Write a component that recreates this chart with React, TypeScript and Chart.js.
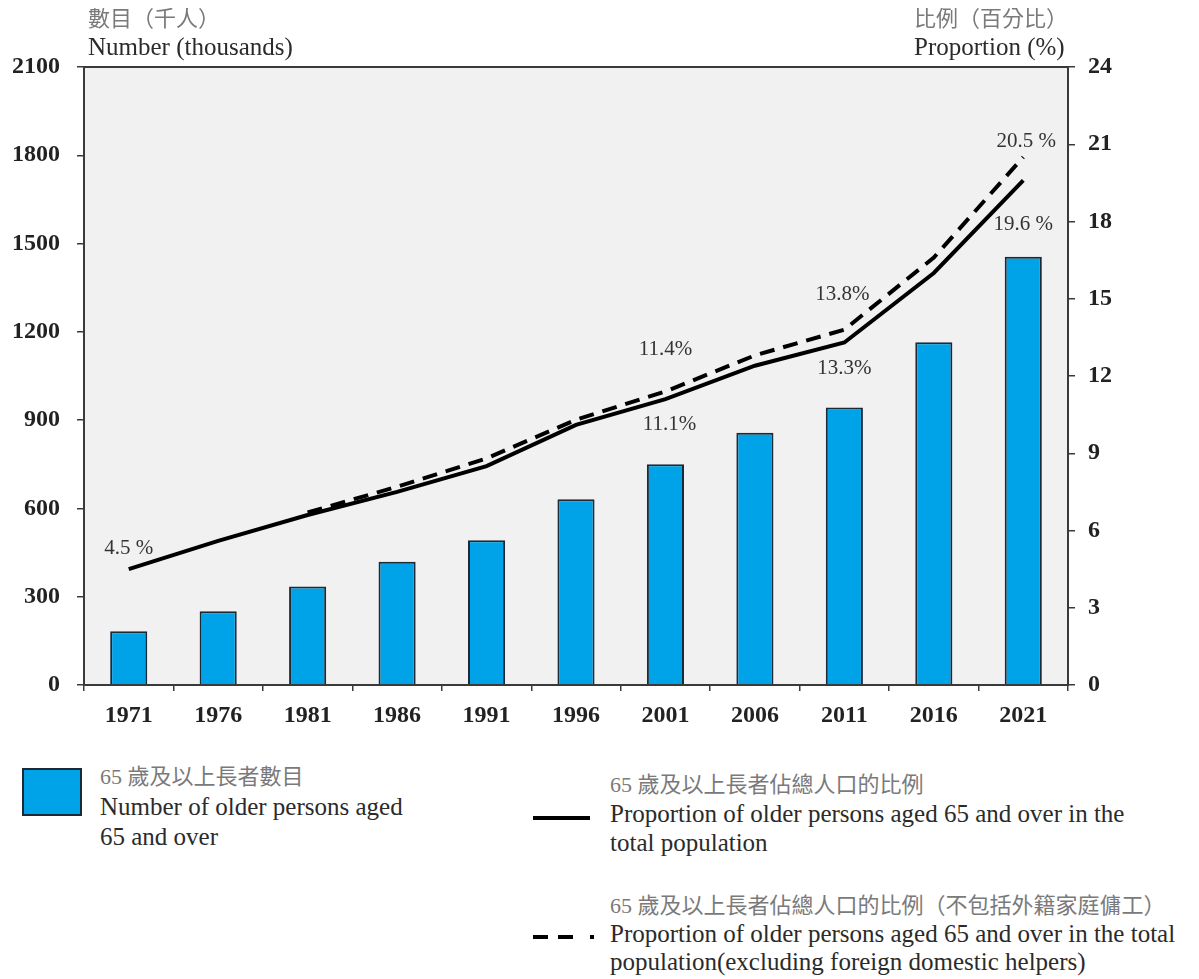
import React, { useEffect, useRef } from "react";
import { Chart, registerables } from "chart.js";

Chart.register(...registerables);

const years = ["1971", "1976", "1981", "1986", "1991", "1996", "2001", "2006", "2011", "2016", "2021"];
const olderPersons = [183, 251, 335, 419, 492, 631, 750, 857, 943, 1165, 1455];
const proportionTotal = [4.5, 5.6, 6.6, 7.5, 8.5, 10.1, 11.1, 12.4, 13.3, 16.0, 19.6];
const proportionExclFDH = [null, null, 6.7, 7.7, 8.8, 10.3, 11.4, 12.8, 13.8, 16.6, 20.5];
const leftTickValues = [0, 300, 600, 900, 1200, 1500, 1800, 2100];
const rightTickValues = [0, 3, 6, 9, 12, 15, 18, 21, 24];

const valueLabels = [
  { ds: 1, i: 0, text: "4.5 %", dx: 0, dy: -21 },
  { ds: 1, i: 6, text: "11.1%", dx: 4, dy: 25 },
  { ds: 2, i: 6, text: "11.4%", dx: 0, dy: -42 },
  { ds: 1, i: 8, text: "13.3%", dx: 0, dy: 26 },
  { ds: 2, i: 8, text: "13.8%", dx: -2, dy: -35 },
  { ds: 2, i: 10, text: "20.5 %", dx: 3, dy: -16 },
  { ds: 1, i: 10, text: "19.6 %", dx: 0, dy: 44 },
];

const SERIF = '"Liberation Serif", "Times New Roman", "Noto Sans CJK TC", serif';
const BAR_FILL = "#00a3e8";
const BAR_EDGE = "#1c2a38";
const FRAME = "#3a3a3a";

const framePlugin = {
  id: "frame",
  beforeDatasetsDraw(chart: any) {
    const { ctx, chartArea: a } = chart;
    ctx.save();
    ctx.fillStyle = "#f1f1f1";
    ctx.fillRect(a.left, a.top, a.right - a.left, a.bottom - a.top);
    ctx.restore();
  },
  afterDatasetsDraw(chart: any) {
    const { ctx, chartArea: a } = chart;
    ctx.save();
    ctx.strokeStyle = FRAME;
    ctx.lineWidth = 2;
    ctx.strokeRect(a.left, a.top, a.right - a.left, a.bottom - a.top);
    ctx.font = '21px "Liberation Serif", serif';
    ctx.fillStyle = "#333";
    ctx.textAlign = "center";
    ctx.textBaseline = "middle";
    for (const l of valueLabels) {
      const el = chart.getDatasetMeta(l.ds).data[l.i];
      if (!el) continue;
      ctx.fillText(l.text, el.x + l.dx, el.y + l.dy);
    }
    ctx.restore();
  },
};

function Txt(props: { x: number; y: number; size: number; color?: string; children: any }) {
  const { x, y, size, color, children } = props;
  return (
    <div
      style={{
        position: "absolute",
        left: x - 8,
        top: y - 8 - size * 0.6,
        fontSize: size,
        lineHeight: `${size * 1.2}px`,
        whiteSpace: "nowrap",
        color: color || "#2a2a2a",
        fontFamily: SERIF,
      }}
    >
      {children}
    </div>
  );
}

const CJK = "#7a7a7a";
const EN = "#2b2b2b";

export default function App() {
  const ref = useRef<HTMLCanvasElement | null>(null);

  useEffect(() => {
    document.documentElement.style.overflow = "hidden";
    document.body.style.overflow = "hidden";
    if (!ref.current) return;
    const tickFont = { family: SERIF, size: 24, weight: "bold" as const };
    const plain = (v: any) => String(v);
    const chart = new Chart(ref.current, {
      type: "bar",
      data: {
        labels: years,
        datasets: [
          {
            type: "bar",
            data: olderPersons,
            backgroundColor: BAR_FILL,
            borderColor: BAR_EDGE,
            borderWidth: 2,
            yAxisID: "y",
            categoryPercentage: 1,
            barPercentage: 0.415,
            order: 3,
          } as any,
          {
            type: "line",
            data: proportionTotal,
            borderColor: "#000",
            borderWidth: 4,
            pointRadius: 0,
            tension: 0,
            fill: false,
            yAxisID: "y1",
            order: 1,
          } as any,
          {
            type: "line",
            data: proportionExclFDH,
            borderColor: "#000",
            borderWidth: 4,
            borderDash: [15, 9],
            pointRadius: 0,
            tension: 0,
            fill: false,
            spanGaps: false,
            yAxisID: "y1",
            order: 0,
          } as any,
        ],
      },
      options: {
        responsive: false,
        animation: false,
        layout: { padding: { top: 59, left: 0, right: 0, bottom: 0 } },
        plugins: { legend: { display: false }, tooltip: { enabled: false } },
        scales: {
          x: {
            offset: true,
            border: { display: false },
            grid: {
              offset: true,
              drawOnChartArea: false,
              drawTicks: true,
              tickLength: 6,
              color: FRAME,
              lineWidth: 1.5,
            },
            ticks: { font: tickFont, color: "#222", padding: 10, maxRotation: 0, autoSkip: false },
            afterFit: (s: any) => {
              s.height = 63;
            },
          },
          y: {
            position: "left",
            min: 0,
            max: 2100,
            border: { display: false },
            grid: { drawOnChartArea: false, tickLength: 7, color: FRAME, lineWidth: 1.5 },
            afterBuildTicks: (s: any) => {
              s.ticks = leftTickValues.map((v) => ({ value: v }));
            },
            ticks: { font: tickFont, color: "#222", padding: 17, callback: plain },
            afterFit: (s: any) => {
              s.width = 76;
            },
          },
          y1: {
            position: "right",
            min: 0,
            max: 24,
            border: { display: false },
            grid: { drawOnChartArea: false, tickLength: 7, color: FRAME, lineWidth: 1.5 },
            afterBuildTicks: (s: any) => {
              s.ticks = rightTickValues.map((v) => ({ value: v }));
            },
            ticks: { font: tickFont, color: "#222", padding: 13, callback: plain },
            afterFit: (s: any) => {
              s.width = 123;
            },
          },
        },
      },
      plugins: [framePlugin],
    });
    return () => chart.destroy();
  }, []);

  return (
    <div style={{ position: "relative", width: 1183, height: 971 }}>
      <canvas ref={ref} width={1183} height={740} style={{ position: "absolute", left: 0, top: 0 }} />

      <Txt x={88} y={19} size={22} color={CJK}>數目（千人）</Txt>
      <Txt x={88} y={47} size={25} color={EN}>Number (thousands)</Txt>
      <Txt x={914} y={19} size={22} color={CJK}>比例（百分比）</Txt>
      <Txt x={914} y={47} size={25} color={EN}>Proportion (%)</Txt>

      {/* legend: bars */}
      <div
        style={{
          position: "absolute",
          left: 22 - 8,
          top: 768 - 8,
          width: 56,
          height: 44,
          background: BAR_FILL,
          border: `2px solid ${BAR_EDGE}`,
        }}
      />
      <Txt x={100} y={777} size={22} color={CJK}>65 歲及以上長者數目</Txt>
      <Txt x={100} y={807} size={25} color={EN}>Number of older persons aged</Txt>
      <Txt x={100} y={837} size={25} color={EN}>65 and over</Txt>

      {/* legend: solid line */}
      <div style={{ position: "absolute", left: 533 - 8, top: 816 - 8, width: 57, height: 4, background: "#000" }} />
      <Txt x={610} y={785} size={22} color={CJK}>65 歲及以上長者佔總人口的比例</Txt>
      <Txt x={610} y={814} size={25} color={EN}>Proportion of older persons aged 65 and over in the</Txt>
      <Txt x={610} y={843} size={25} color={EN}>total population</Txt>

      {/* legend: dashed line */}
      <div style={{ position: "absolute", left: 533 - 8, top: 935 - 8, width: 15, height: 4, background: "#000" }} />
      <div style={{ position: "absolute", left: 558 - 8, top: 935 - 8, width: 15, height: 4, background: "#000" }} />
      <div style={{ position: "absolute", left: 590 - 8, top: 935 - 8, width: 4, height: 4, background: "#000" }} />
      <Txt x={610} y={906} size={22} color={CJK}>65 歲及以上長者佔總人口的比例（不包括外籍家庭傭工）</Txt>
      <Txt x={610} y={934} size={25} color={EN}>Proportion of older persons aged 65 and over in the total</Txt>
      <Txt x={610} y={962} size={25} color={EN}>population(excluding foreign domestic helpers)</Txt>
    </div>
  );
}
